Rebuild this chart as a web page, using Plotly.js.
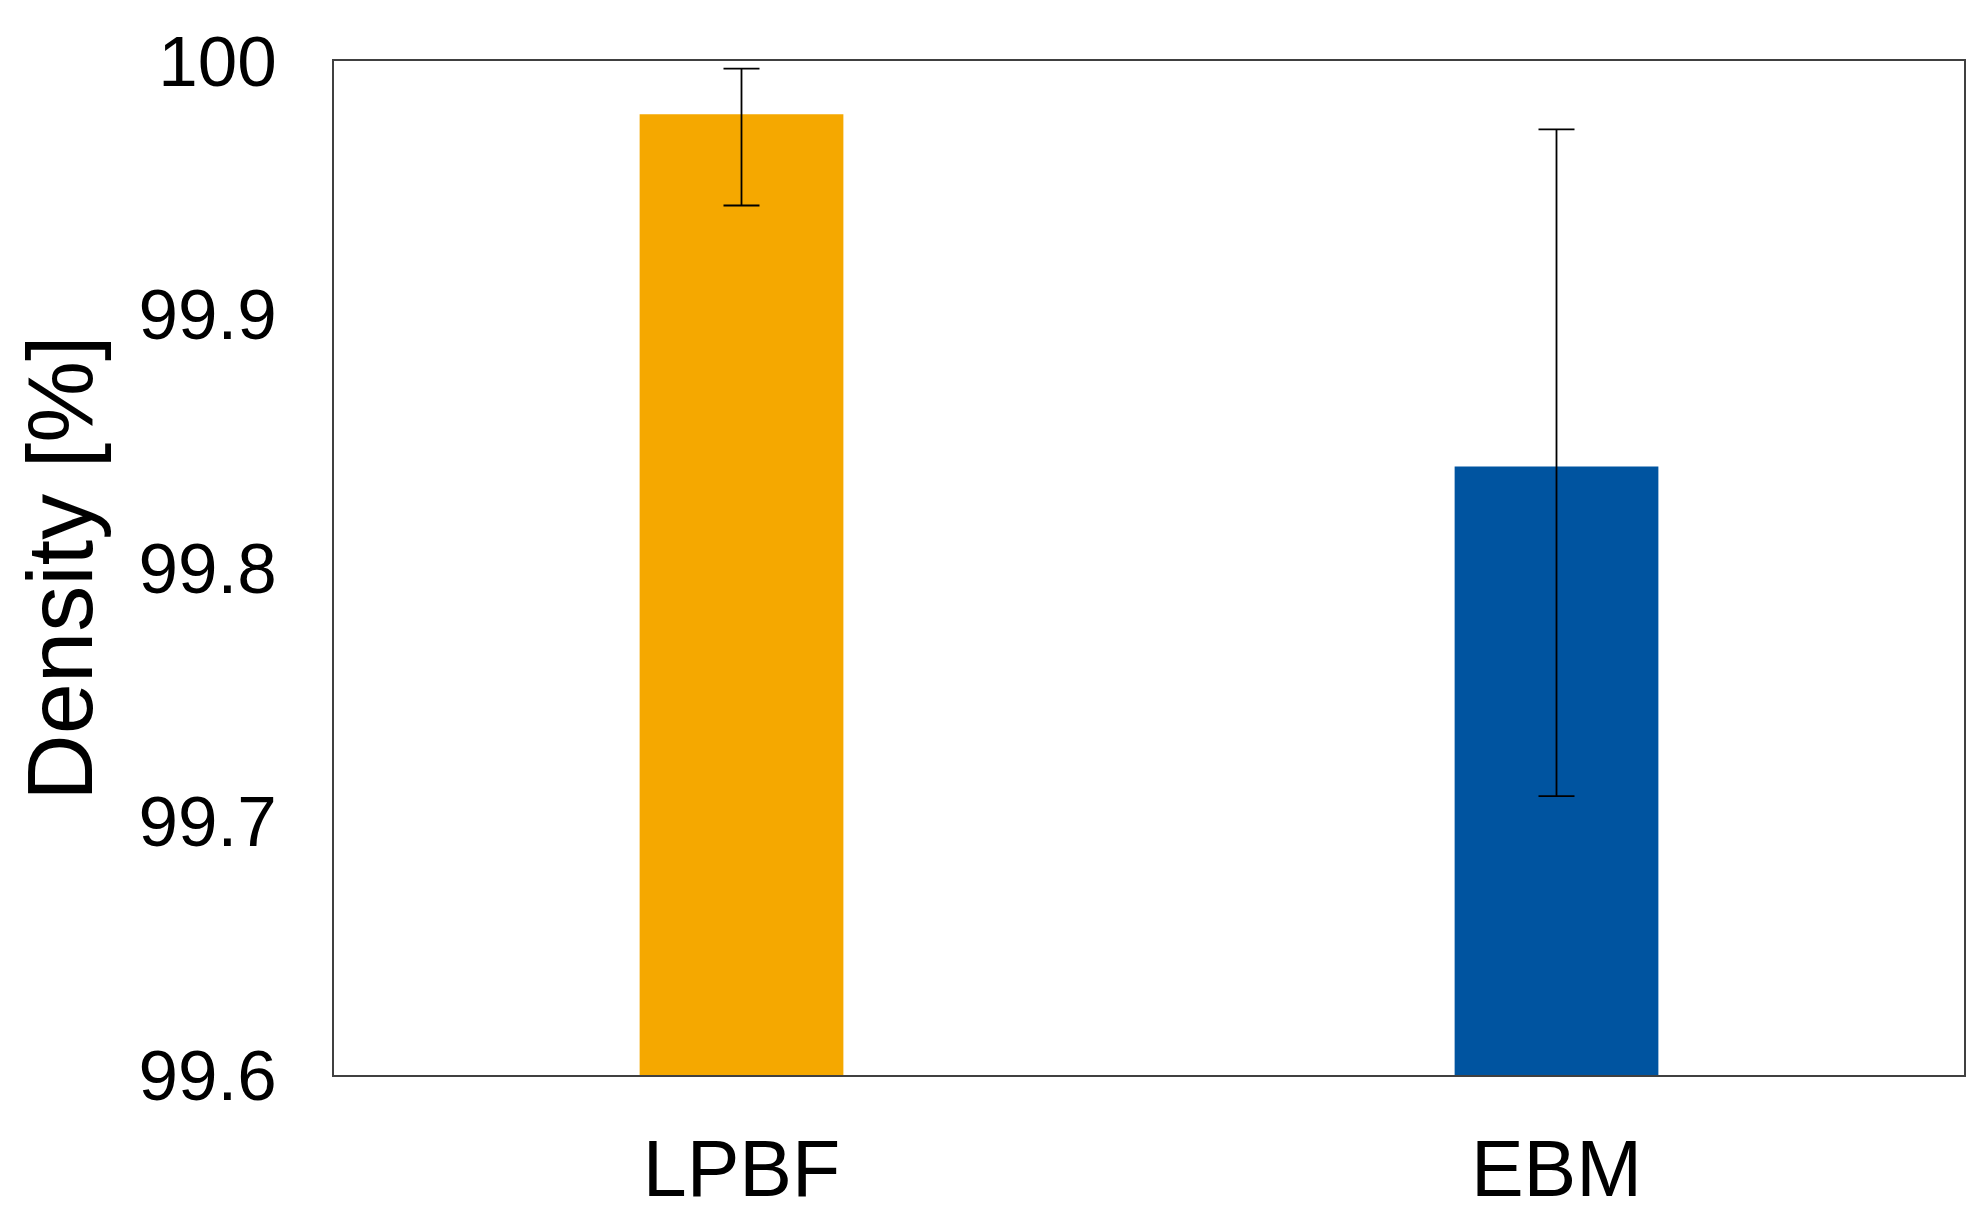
<!DOCTYPE html>
<html>
<head>
<meta charset="utf-8">
<script src="https://cdn.plot.ly/plotly-3.0.1.min.js"></script>
<style>html,body{margin:0;padding:0;background:#fff;}#chart{width:1984px;height:1230px;}</style>
</head>
<body>
<div id="chart"></div>
<script>
const categories = ["LPBF", "EBM"];
const densityValues = [99.979, 99.840];
const errorPlus = [0.018, 0.133];
const errorMinus = [0.036, 0.130];
const barColors = ["#F5A800", "#0054A0"];
const yTickValues = [99.6, 99.7, 99.8, 99.9, 100];
const yTickLabels = ["99.6", "99.7", "99.8", "99.9", "100"];

const trace = {
  type: "bar",
  x: categories,
  y: densityValues,
  base: 0,
  width: 0.25,
  marker: {color: barColors, line: {width: 0}},
  error_y: {
    type: "data",
    symmetric: false,
    array: errorPlus,
    arrayminus: errorMinus,
    color: "#000000",
    thickness: 1.8,
    width: 18
  },
  hoverinfo: "skip"
};

const layout = {
  width: 1984,
  height: 1230,
  margin: {l: 334, r: 20, t: 61, b: 155},
  paper_bgcolor: "#ffffff",
  plot_bgcolor: "#ffffff",
  showlegend: false,
  font: {family: "Liberation Sans, Arial, sans-serif", color: "#000000"},
  xaxis: {
    type: "category",
    range: [-0.5, 1.5],
    showgrid: false,
    zeroline: false,
    showline: true,
    mirror: true,
    linecolor: "#404040",
    linewidth: 2,
    ticks: "",
    tickfont: {size: 79, color: "#000000"},
    ticklabelstandoff: 24
  },
  yaxis: {
    range: [99.6, 100],
    tickvals: yTickValues,
    ticktext: yTickLabels,
    showgrid: false,
    zeroline: false,
    showline: true,
    mirror: true,
    linecolor: "#404040",
    linewidth: 2,
    ticks: "",
    automargin: true,
    tickfont: {size: 71, color: "#000000"},
    ticklabelstandoff: 41,
    title: {text: "Density [%]", font: {size: 92, color: "#000000"}, standoff: 15}
  }
};

Plotly.newPlot("chart", [trace], layout, {displayModeBar: false, staticPlot: true});
</script>
</body>
</html>
